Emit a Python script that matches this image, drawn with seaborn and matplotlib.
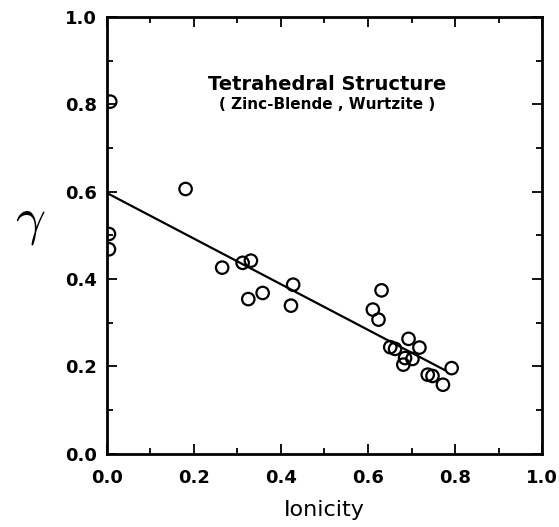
import numpy as np
import pandas as pd
import matplotlib.pyplot as plt
import seaborn as sns
from matplotlib.ticker import MultipleLocator

ionicity = [0.008, 0.005, 0.005, 0.181, 0.265, 0.312, 0.331, 0.325, 0.358,
            0.428, 0.423, 0.631, 0.611, 0.624, 0.693, 0.718, 0.651, 0.662,
            0.685, 0.702, 0.681, 0.737, 0.748, 0.772, 0.792]
gamma = [0.806, 0.503, 0.468, 0.606, 0.426, 0.437, 0.442, 0.354, 0.368,
         0.387, 0.339, 0.374, 0.330, 0.307, 0.263, 0.243, 0.244, 0.240,
         0.219, 0.217, 0.204, 0.181, 0.178, 0.158, 0.196]

fit_x = [0.0, 0.777]
fit_y = [0.597, 0.191]

df = pd.DataFrame({'ionicity': ionicity, 'gamma': gamma})
fit = pd.DataFrame({'x': fit_x, 'y': fit_y})

sns.set_style('ticks', {'axes.edgecolor': 'black', 'text.color': 'black',
                        'xtick.color': 'black', 'ytick.color': 'black',
                        'axes.labelcolor': 'black'})
plt.rcParams['font.family'] = ['DejaVu Sans']
plt.rcParams['mathtext.fontset'] = 'cm'

fig = plt.figure(figsize=(5.59, 5.27), dpi=100)
ax = fig.add_axes([0.191, 0.139, 0.779, 0.829])

sns.lineplot(data=fit, x='x', y='y', color='black', linewidth=1.6, ax=ax)
sns.scatterplot(data=df, x='ionicity', y='gamma', s=80, facecolors='none',
                edgecolor='black', linewidth=1.6, marker='o', ax=ax, zorder=3)

ax.set_xlim(0, 1)
ax.set_ylim(0, 1)
ax.xaxis.set_major_locator(MultipleLocator(0.2))
ax.xaxis.set_minor_locator(MultipleLocator(0.1))
ax.yaxis.set_major_locator(MultipleLocator(0.2))
ax.yaxis.set_minor_locator(MultipleLocator(0.1))
ax.tick_params(which='both', direction='in', top=True, right=True, width=1.3)
ax.tick_params(which='major', length=7, labelsize=13, pad=7)
ax.tick_params(axis='x', which='major', pad=11)
ax.tick_params(which='minor', length=4)
for lab in ax.get_xticklabels() + ax.get_yticklabels():
    lab.set_fontweight('bold')
for sp in ax.spines.values():
    sp.set_linewidth(2)
    sp.set_visible(True)

ax.set_xlabel('Ionicity', fontsize=16, fontweight='medium', labelpad=9)
ax.set_ylabel(r'$\gamma$', fontsize=38, rotation=0)
ax.yaxis.set_label_coords(-0.175, 0.474)

ax.text(0.506, 0.845, 'Tetrahedral Structure', ha='center', va='center',
        fontsize=14, fontweight='bold')
ax.text(0.506, 0.800, '( Zinc-Blende , Wurtzite )', ha='center', va='center',
        fontsize=11, fontweight='bold')

fig.savefig('out.png', dpi=100)
